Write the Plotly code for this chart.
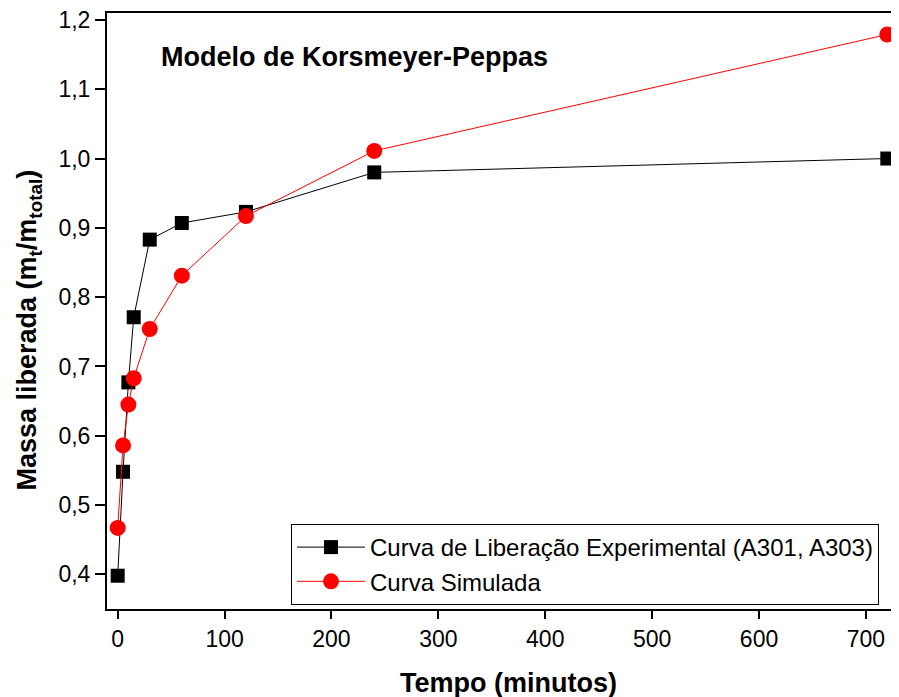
import plotly.graph_objects as go

tempo = [0, 5, 10, 15, 30, 60, 120, 240, 720]
experimental = [0.398, 0.548, 0.677, 0.771, 0.883, 0.907, 0.923, 0.980, 1.000]
simulada = [0.467, 0.586, 0.645, 0.683, 0.754, 0.831, 0.917, 1.011, 1.179]

x_ticks = [0, 100, 200, 300, 400, 500, 600, 700]
y_ticks = [0.4, 0.5, 0.6, 0.7, 0.8, 0.9, 1.0, 1.1, 1.2]

FONT = "Liberation Sans, Arial, sans-serif"

fig = go.Figure()
fig.add_trace(go.Scatter(
    x=tempo, y=experimental, mode="lines+markers",
    name="Curva de Liberação Experimental (A301, A303)",
    line=dict(color="black", width=1),
    marker=dict(symbol="square", size=14, color="black"),
    cliponaxis=False,
))
fig.add_trace(go.Scatter(
    x=tempo, y=simulada, mode="lines+markers",
    name="Curva Simulada",
    line=dict(color="red", width=1),
    marker=dict(symbol="circle", size=16, color="red"),
    cliponaxis=False,
))

fig.add_annotation(
    text="<b>Modelo de Korsmeyer-Peppas</b>",
    xref="paper", yref="paper", x=0.066, y=0.926,
    xanchor="left", yanchor="middle", showarrow=False,
    font=dict(family=FONT, size=27, color="black"),
)
fig.add_annotation(
    text="<b>Tempo (minutos)</b>",
    xref="paper", yref="paper", x=0.507, y=-0.124,
    xanchor="center", yanchor="middle", showarrow=False,
    font=dict(family=FONT, size=27, color="black"),
)
fig.add_annotation(
    text="<b>Massa liberada (m<sub>t</sub>/m<sub>total</sub>)</b>",
    xref="paper", yref="paper", x=-0.098, y=0.468, textangle=-90,
    xanchor="center", yanchor="middle", showarrow=False,
    font=dict(family=FONT, size=27, color="black"),
)

fig.update_layout(
    width=891, height=689,
    margin=dict(l=99, r=1, t=5, b=88, autoexpand=False),
    paper_bgcolor="white", plot_bgcolor="white",
    separators=", ",
    font=dict(family=FONT, color="black"),
    showlegend=True,
    legend=dict(
        x=0.2326, y=0.1426, xanchor="left", yanchor="top",
        bordercolor="black", borderwidth=1, bgcolor="white",
        font=dict(family=FONT, size=24, color="black"),
        itemwidth=68, tracegroupgap=0,
    ),
    xaxis=dict(
        range=[-10, 730], tickvals=x_ticks, automargin=False,
        ticks="outside", ticklen=8, tickwidth=2, tickcolor="black",
        showline=True, linecolor="black", linewidth=2, mirror=True,
        showgrid=False, zeroline=False, ticklabeloverflow="allow",
        tickfont=dict(family=FONT, size=23, color="black"),
    ),
    yaxis=dict(
        range=[0.35, 1.21], tickvals=y_ticks, tickformat=".1f", automargin=False,
        ticks="outside", ticklen=10, tickwidth=2, tickcolor="black",
        showline=True, linecolor="black", linewidth=2, mirror=False,
        showgrid=False, zeroline=False, ticklabeloverflow="allow",
        tickfont=dict(family=FONT, size=23, color="black"),
    ),
)

fig.write_html("out.html")
